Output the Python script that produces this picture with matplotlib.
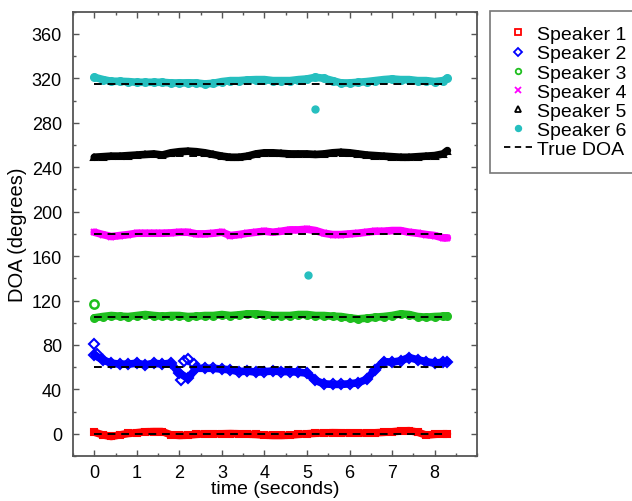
import numpy as np
import matplotlib
matplotlib.use("Agg")
import matplotlib.pyplot as plt
from matplotlib.lines import Line2D
from matplotlib.ticker import MultipleLocator

plt.rcParams['font.family'] = ['Liberation Sans', 'DejaVu Sans']

# time grid (seconds)
time = [0.0, 0.2, 0.4, 0.6, 0.8, 1.0, 1.2, 1.4, 1.6, 1.8, 2.0, 2.2, 2.4, 2.6, 2.8,
        3.0, 3.2, 3.4, 3.6, 3.8, 4.0, 4.2, 4.4, 4.6, 4.8, 5.0, 5.2, 5.4, 5.6, 5.8,
        6.0, 6.2, 6.4, 6.6, 6.8, 7.0, 7.2, 7.4, 7.6, 7.8, 8.0, 8.2, 8.3]

# estimated DOA tracks (degrees)
spk1 = [1.5, -1, -2.4, -1, 0.3, 1, 1.8, 2, 2, -0.9, -1.5, -1.2, -0.5, 0, 0,
        0, 0.2, 0, -0.3, -0.6, -1.2, -1.5, -1.5, -1.2, -0.5, 0, 0.5, 0.8, 1, 0.9,
        0.9, 0.8, 0.6, 0.9, 1.3, 1.8, 2.5, 2.8, 1.5, -1.2, -0.5, 0, 0]
spk2 = [71, 66.6, 63.6, 62.7, 62.7, 63.6, 62, 63.6, 62.7, 63.6, 54.6, 50, 59, 59, 59,
        58.2, 57.6, 56, 56.5, 55.5, 56, 56.5, 56, 56, 55.5, 54.6, 48, 45, 44.5, 44.5,
        45, 46, 49, 57.6, 65, 64.5, 65.7, 68.7, 66.6, 65, 63.6, 64.5, 65]
spk3 = [104.4, 105.6, 106.5, 105.9, 105.6, 106.5, 107.4, 106.5, 105.9, 106.5, 106.5, 105.6, 105.9, 106.5, 106.5,
        107.4, 106.5, 107.1, 108, 108, 107.4, 106.5, 106.5, 106.5, 107.4, 107.4, 106.5, 106.5, 105.9, 105.6,
        104.4, 103.5, 104.1, 105, 105.6, 106.5, 108, 107.4, 105.6, 105, 105.6, 105.9, 106.2]
spk4 = [181.5, 179.4, 177.6, 178.5, 179.4, 180.6, 180.6, 180.6, 180.6, 180.9, 181.5, 181.5, 180, 180, 180.6,
        181.5, 178.5, 179.4, 180.6, 181.5, 182.4, 181.5, 182.4, 183.6, 183.6, 184.2, 183, 180.6, 179.4, 179.4,
        180, 180.6, 181.5, 182.4, 182.4, 183, 183, 181.5, 180.6, 179.4, 178.5, 176.4, 176.4]
spk5 = [249, 249.5, 250, 250, 250.5, 251, 251.5, 252, 251, 253, 254, 254.5, 254, 253, 251.5,
        250, 249, 249, 250, 252, 253, 253, 252.5, 252, 252, 252, 251.5, 252, 253, 253.5,
        253, 252, 251, 250.5, 250, 249.5, 249, 249, 249.5, 250, 250.5, 252, 255]
spk6 = [321, 319, 317.4, 317.4, 317.1, 316.5, 316.5, 316.5, 316.5, 315.9, 315.9, 316, 315.9, 315, 315.6,
        317.1, 318, 318, 318.6, 318.9, 318.9, 318, 318, 318, 318.9, 319.5, 321, 320.1, 318, 315.9,
        315.9, 316.5, 317.1, 318, 318.9, 319.5, 318.9, 318.9, 318, 318, 317.1, 318, 320.1]

# isolated estimates away from the tracks
spk2_out_t = [0.0, 0.07, 2.05, 2.1, 2.2, 2.35]
spk2_out_v = [81, 72, 48, 66, 67, 63]
spk3_out_t = [0.0]
spk3_out_v = [117]
spk6_out_t = [5.03, 5.2]
spk6_out_v = [143, 292]

true_doa = [0, 60, 105, 180, 250, 315]
true_t = [0, 8.3]

colors = ['#ff0000', '#0000ff', '#1fbf1f', '#ff00ff', '#000000', '#26bfbf']
markers = ['s', 'D', 'o', 'x', '^', 'o']
filled = [False, False, False, True, False, True]
labels = ['Speaker 1', 'Speaker 2', 'Speaker 3', 'Speaker 4', 'Speaker 5', 'Speaker 6']
tracks = [spk1, spk2, spk3, spk4, spk5, spk6]

fig = plt.figure(figsize=(6.32, 5.02), dpi=100)
ax = fig.add_axes([0.1155, 0.0896, 0.6395, 0.885])

for trk, c, m, f in zip(tracks, colors, markers, filled):
    ax.plot(time, trk, '-', color=c, lw=5.5, solid_capstyle='round', zorder=2)
    ax.plot(time, trk, m, color=c, ms=5, mew=1.5,
            mfc=c if f else 'none', zorder=2)

ax.plot(spk2_out_t, spk2_out_v, 'D', color=colors[1], mfc='none', ms=5, mew=1.5, zorder=2)
ax.plot(spk3_out_t, spk3_out_v, 'o', color=colors[2], mfc='none', ms=6, mew=1.8, zorder=2)
ax.plot(spk6_out_t, spk6_out_v, 'o', color=colors[5], ms=5, zorder=2)

for d in true_doa:
    ax.plot(true_t, [d, d], '--', color='black', lw=1.4, dashes=(4, 3), zorder=3)

ax.set_xlim(-0.5, 9)
ax.set_ylim(-20, 380)
ax.set_xticks(range(0, 9))
ax.xaxis.set_minor_locator(MultipleLocator(0.5))
ax.set_yticks(np.arange(0, 361, 40))
ax.yaxis.set_minor_locator(MultipleLocator(20))
ax.tick_params(which='both', direction='in', top=True, right=True, labelsize=13,
               color='#555555')
ax.tick_params(axis='y', pad=8)
ax.tick_params(axis='x', pad=6)
ax.tick_params(which='major', length=4, width=1)
ax.tick_params(which='minor', length=2, width=1)
for s in ax.spines.values():
    s.set_color('#555555')
    s.set_linewidth(1.3)

ax.set_xlabel('time (seconds)', fontsize=14, labelpad=-1)
ax.set_ylabel('DOA (degrees)', fontsize=14.5, labelpad=3)

handles = []
for c, m, f, lab in zip(colors, markers, filled, labels):
    handles.append(Line2D([], [], ls='none', marker=m, color=c, ms=4, mew=1.3,
                          mfc=c if f else 'none', label=lab))
handles.append(Line2D([], [], ls='--', color='black', lw=1.3, dashes=(3.5, 2.5),
                      label='True DOA'))
leg = fig.legend(handles=handles, loc='upper left', bbox_to_anchor=(0.775, 0.976),
                 fontsize=14, frameon=True, fancybox=False, edgecolor='#555555',
                 handlelength=1.4, handletextpad=0.28, labelspacing=0.08,
                 borderpad=0.75, borderaxespad=0)
leg.get_frame().set_linewidth(1.2)

fig.savefig('out.png', dpi=100)
